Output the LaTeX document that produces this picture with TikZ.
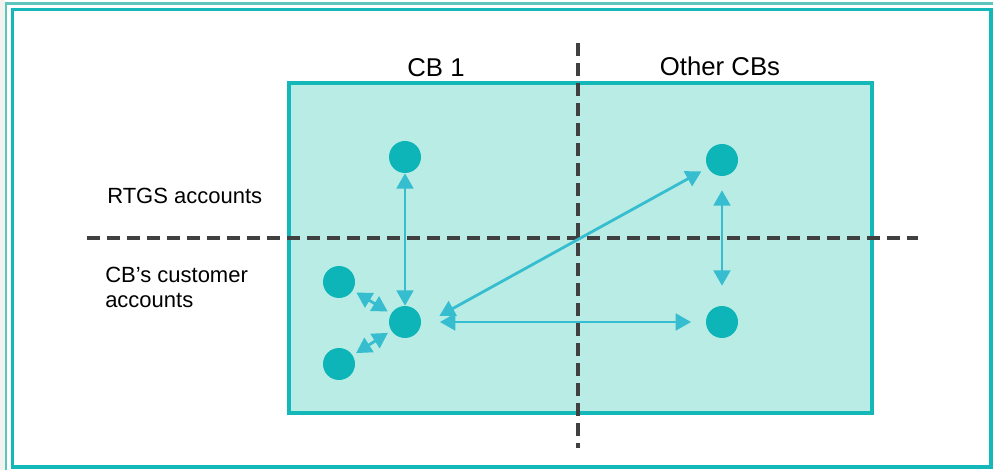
\documentclass[tikz,border=0pt]{standalone}
\usepackage{fontspec}
\setmainfont{Liberation Sans}
\usetikzlibrary{arrows.meta}
\definecolor{framec}{HTML}{14B8B8}
\definecolor{outerc}{HTML}{5CC4BC}
\definecolor{greyc}{HTML}{F2F2EE}
\definecolor{boxfill}{HTML}{B8ECE4}
\definecolor{dotc}{HTML}{0DB5B8}
\definecolor{arrc}{HTML}{36BDD0}
\definecolor{dashc}{HTML}{404040}
\tikzset{
  dotnode/.style={circle, fill=dotc, minimum size=24pt, inner sep=0pt, draw=none},
  link/.style={draw=arrc, line width=2.1pt, {Triangle[length=11.5pt,width=12.5pt]}-{Triangle[length=11.5pt,width=12.5pt]}},
  divider/.style={draw=dashc, line width=2.3pt, dash pattern=on 9.5pt off 5.5pt},
  bigtxt/.style={font=\fontsize{19.3pt}{23pt}\selectfont, inner sep=0pt},
  smalltxt/.style={font=\fontsize{16.5pt}{18.75pt}\selectfont, inner sep=0pt, align=left},
}
\begin{document}
\begin{tikzpicture}[x=0.75pt, y=-0.75pt]
\useasboundingbox (0,0) rectangle (993,470);
\clip (0,0) rectangle (993,470);
\fill[white] (0,0) rectangle (993,470);
\fill[greyc] (0,0) rectangle (5,470);
\draw[outerc, line width=1.9pt] (6.2,3.6) rectangle (1010,490);
\draw[framec, line width=2.3pt] (12.5,9.8) rectangle (991,467);
% main box
\draw[framec, fill=boxfill, line width=2.3pt] (289,83) rectangle (872,413);
% dividers
\coordinate (vt) at (578,43);
\coordinate (vb) at (578,448);
\coordinate (hl) at (87,238);
\coordinate (hr) at (918,238);
\draw[divider] (vt) -- (vb);
\draw[divider] (hl) -- (hr);
% labels
\node[bigtxt, anchor=base] (cb1) at (436,77) {CB 1};
\node[bigtxt, anchor=base] (other) at (720,76) {Other CBs};
\node[smalltxt, anchor=base west] (rtgs) at (107,204) {RTGS accounts};
\node[smalltxt, anchor=base west] (cust) at (105,308) {CB’s customer\\accounts};
% dots
\node[dotnode] (a1) at (405,157) {};
\node[dotnode] (b1) at (722,160) {};
\node[dotnode] (c1) at (339,282) {};
\node[dotnode] (a2) at (405,322) {};
\node[dotnode] (c2) at (339,364) {};
\node[dotnode] (b2) at (722,322) {};
% arrows
\draw[link] (a1) -- (a2);
\draw[link, shorten <=3pt, shorten >=3pt] (c1) -- (a2);
\draw[link, shorten <=3pt, shorten >=3pt] (c2) -- (a2);
\draw[link, shorten <=14pt, shorten >=11pt] (a2) -- (b2);
\draw[link, shorten <=16pt, shorten >=5.5pt] (a2.-15) -- (b1);
\draw[link, shorten <=10.5pt, shorten >=15pt] (b1) -- (b2);
\end{tikzpicture}
\end{document}
